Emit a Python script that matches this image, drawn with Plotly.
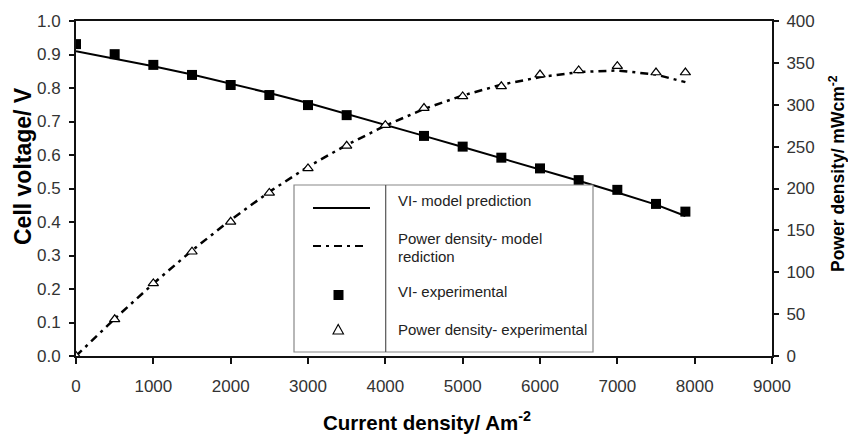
import plotly.graph_objects as go

# ---------------- data ----------------
current_model = [0, 500, 1000, 1500, 2000, 2500, 3000, 3500, 4000, 4500,
                 5000, 5500, 6000, 6500, 7000, 7500, 7880]
vi_model = [0.910, 0.888, 0.865, 0.840, 0.813, 0.785, 0.755, 0.723, 0.690,
            0.657, 0.624, 0.591, 0.557, 0.523, 0.488, 0.452, 0.418]
power_model = [0, 44.5, 86.5, 126, 162.5, 196, 226, 252, 275, 295,
               311, 324, 333, 339, 341, 336, 327]

current_vi_exp = [0, 500, 1000, 1500, 2000, 2500, 3000, 3500, 4500,
                  5000, 5500, 6000, 6500, 7000, 7500, 7880]
vi_exp = [0.931, 0.901, 0.869, 0.839, 0.809, 0.779, 0.749, 0.719, 0.657,
          0.625, 0.592, 0.560, 0.525, 0.496, 0.454, 0.431]

current_pd_exp = [0, 500, 1000, 1500, 2000, 2500, 3000, 3500, 4000, 4500,
                  5000, 5500, 6000, 6500, 7000, 7500, 7880]
pd_exp = [0, 43.8, 86.7, 124.5, 160.2, 194.7, 224, 251, 275.6, 296,
          310, 322, 336, 341, 346, 338.5, 338.5]

x_ticks = [0, 1000, 2000, 3000, 4000, 5000, 6000, 7000, 8000, 9000]

legend_labels = ["VI- model prediction", "Power density- model", "rediction",
                 "VI- experimental", "Power density- experimental"]

# ---------------- layout geometry ----------------
W, H = 848, 436
L, R, T, B = 76, 76, 21, 80
PW, PH = W - L - R, H - T - B

def px(xp):
    return (xp - L) / PW

def py(yp):
    return (H - B - yp) / PH

FONT = "Arial, Liberation Sans, sans-serif"
DASHDOT = "8px,5px,3px,5px"

fig = go.Figure()

fig.add_trace(go.Scatter(x=current_model, y=vi_model, mode="lines",
                         line=dict(color="black", width=2), showlegend=False,
                         yaxis="y"))
fig.add_trace(go.Scatter(x=current_model, y=power_model, mode="lines",
                         line=dict(color="black", width=2.5, dash=DASHDOT),
                         showlegend=False, yaxis="y2"))
fig.add_trace(go.Scatter(x=current_vi_exp, y=vi_exp, mode="markers",
                         marker=dict(symbol="square", size=10, color="black"),
                         showlegend=False, yaxis="y"))
fig.add_trace(go.Scatter(x=current_pd_exp, y=pd_exp, mode="markers",
                         marker=dict(symbol="triangle-up", size=9, color="white",
                                     line=dict(color="black", width=1.2)),
                         showlegend=False, yaxis="y2"))

tickfont = dict(family=FONT, size=17, color="#333")
axis_common = dict(showgrid=False, zeroline=False, showline=True,
                   linecolor="#111", linewidth=2, ticks="outside",
                   tickcolor="#111", tickwidth=2, tickfont=tickfont)

fig.update_layout(
    width=W, height=H,
    margin=dict(l=L, r=R, t=T, b=B),
    paper_bgcolor="white", plot_bgcolor="white",
    xaxis=dict(range=[0, 9000], tickvals=x_ticks, ticklen=6,
               ticklabelstandoff=8, mirror=True, **axis_common),
    yaxis=dict(range=[0, 1.0], dtick=0.1, tickformat=".1f", ticklen=5,
               ticklabelstandoff=5, **axis_common),
    yaxis2=dict(range=[0, 400], dtick=50, overlaying="y", side="right",
                ticklen=5, ticklabelstandoff=4, **axis_common),
    showlegend=False,
)

# ---------------- axis titles ----------------
ann = []
ann.append(dict(text="<b>Current density/ Am<sup>-2</sup></b>", x=px(427), y=py(421),
                xref="paper", yref="paper", showarrow=False, xanchor="center",
                yanchor="middle", font=dict(family=FONT, size=20.5, color="black")))
ann.append(dict(text="<b>Cell voltage/ V</b>", x=px(23), y=py(166),
                xref="paper", yref="paper", showarrow=False, textangle=-90,
                xanchor="center", yanchor="middle",
                font=dict(family=FONT, size=23, color="black")))
ann.append(dict(text="<b>Power density/ mWcm<sup>-2</sup></b>", x=px(837), y=py(174),
                xref="paper", yref="paper", showarrow=False, textangle=-90,
                xanchor="center", yanchor="middle",
                font=dict(family=FONT, size=17.5, color="black")))

# ---------------- manual legend ----------------
shapes = []
shapes.append(dict(type="rect", xref="paper", yref="paper",
                   x0=px(294), x1=px(593), y0=py(352), y1=py(185),
                   line=dict(color="#888", width=1.2), fillcolor="white",
                   layer="above"))
shapes.append(dict(type="line", xref="paper", yref="paper",
                   x0=px(385.7), x1=px(385.7), y0=py(352), y1=py(185),
                   line=dict(color="#555", width=1.2), layer="above"))
shapes.append(dict(type="line", xref="paper", yref="paper",
                   x0=px(313), x1=px(370), y0=py(208), y1=py(208),
                   line=dict(color="black", width=2), layer="above"))
shapes.append(dict(type="line", xref="paper", yref="paper",
                   x0=px(313), x1=px(368), y0=py(246), y1=py(246),
                   line=dict(color="black", width=2, dash=DASHDOT), layer="above"))
shapes.append(dict(type="rect", xref="paper", yref="paper",
                   x0=px(333.5), x1=px(343.5), y0=py(300), y1=py(290),
                   line=dict(color="black", width=0), fillcolor="black",
                   layer="above"))
tx0, tx1, tx2 = px(333), px(343.5), px(338.2)
ty0, ty1 = py(334), py(324.5)
shapes.append(dict(type="path", xref="paper", yref="paper",
                   path=f"M {tx0} {ty0} L {tx1} {ty0} L {tx2} {ty1} Z",
                   line=dict(color="black", width=1.1), fillcolor="white",
                   layer="above"))

legend_y = [200.7, 238.5, 256, 291.7, 329]
for lab, yy in zip(legend_labels, legend_y):
    ann.append(dict(text=lab, x=px(396), y=py(yy), xref="paper", yref="paper",
                    showarrow=False, xanchor="left", yanchor="middle",
                    font=dict(family=FONT, size=15, color="#222")))

fig.update_layout(annotations=ann, shapes=shapes)

fig.write_html("out.html")
